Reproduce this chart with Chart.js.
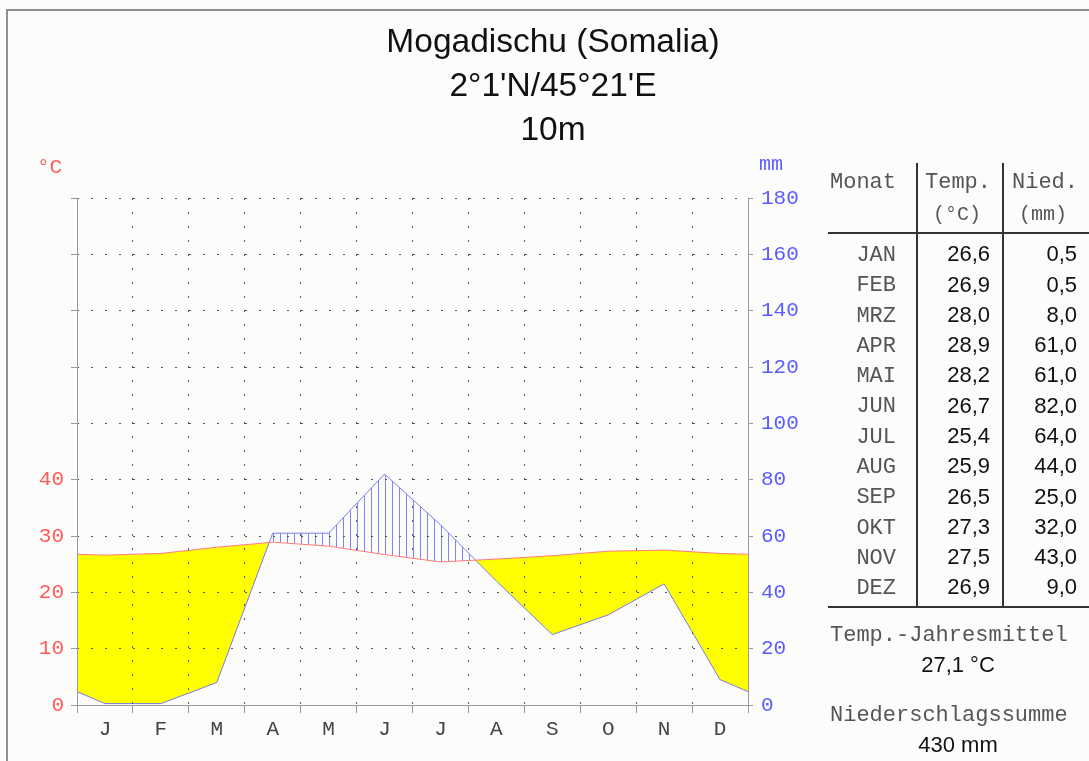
<!DOCTYPE html>
<html><head><meta charset="utf-8">
<script src="https://cdn.jsdelivr.net/npm/chart.js@4/dist/chart.umd.min.js"></script>
<style>
html,body{margin:0;padding:0;background:#fff;}
#wrap{position:relative;width:1089px;height:761px;overflow:hidden;background:#fcfdfb;}
#frame{position:absolute;left:6px;top:9px;width:1200px;height:800px;border-left:2px solid #8f8f8f;border-top:2px solid #8f8f8f;}
canvas{position:absolute;left:0;top:0;}
.t{position:absolute;white-space:nowrap;}
.ln{position:absolute;background:#333;}
</style></head><body>
<div id="wrap"><div id="frame"></div><canvas id="c" width="1089" height="761"></canvas></div>
<script>
const months = ['J','F','M','A','M','J','J','A','S','O','N','D'];
const monthNames = ['JAN','FEB','MRZ','APR','MAI','JUN','JUL','AUG','SEP','OKT','NOV','DEZ'];
const temperature = [26.6,26.9,28.0,28.9,28.2,26.7,25.4,25.9,26.5,27.3,27.5,26.9];
const precipitation = [0.5,0.5,8.0,61.0,61.0,82.0,64.0,44.0,25.0,32.0,43.0,9.0];
const tempTickLabels = [0,10,20,30,40];
const precipTickLabels = [0,20,40,60,80,100,120,140,160,180];
const titleLines = ['Mogadischu (Somalia)', "2°1'N/45°21'E", '10m'];

const wrap = document.getElementById('wrap');
const SANS = '"Liberation Sans", Arial, sans-serif';
const MONO = '"Liberation Mono", "Courier New", monospace';
function addText(str, x, base, size, family, color, align) {
  const d = document.createElement('div');
  d.className = 't';
  d.textContent = str;
  const k = family === MONO ? 0.7665 : 0.8465;
  d.style.fontFamily = family;
  d.style.fontSize = size + 'px';
  d.style.lineHeight = size + 'px';
  d.style.color = color;
  d.style.top = (base - k * size) + 'px';
  if (align === 'right') { d.style.right = (1089 - x) + 'px'; d.style.textAlign = 'right'; }
  else if (align === 'center') { d.style.left = (x - 300) + 'px'; d.style.width = '600px'; d.style.textAlign = 'center'; }
  else d.style.left = x + 'px';
  wrap.appendChild(d);
}
function addLine(x, y, w, h) {
  const d = document.createElement('div');
  d.className = 'ln';
  d.style.left = x + 'px'; d.style.top = y + 'px'; d.style.width = w + 'px'; d.style.height = h + 'px';
  wrap.appendChild(d);
}
const fmt = v => v.toFixed(1).replace('.', ',');

// title
titleLines.forEach((s, i) => addText(s, 553, 52 + i * 44, 33.5, SANS, '#111', 'center'));
// units
addText('°C', 37, 173, 21, MONO, '#ff5a5a', 'left');
addText('mm', 759, 170, 20, MONO, '#5a5aff', 'left');

// table
addText('Monat', 830, 189, 22, MONO, '#555', 'left');
addText('Temp.', 925, 189, 22, MONO, '#555', 'left');
addText('(°C)', 957, 220, 20, MONO, '#555', 'center');
addText('Nied.', 1012, 189, 22, MONO, '#555', 'left');
addText('(mm)', 1043, 220, 20, MONO, '#555', 'center');
addLine(828, 232, 270, 2);
addLine(916, 163, 2, 445);
addLine(1002, 163, 2, 445);
addLine(828, 606, 270, 2);
monthNames.forEach((m, i) => {
  const b = 262 + i * 30.27;
  addText(m, 896, b, 22, MONO, '#555', 'right');
  addText(fmt(temperature[i]), 990, b, 22, SANS, '#111', 'right');
  addText(fmt(precipitation[i]), 1077, b, 22, SANS, '#111', 'right');
});
const meanT = temperature.reduce((a, b) => a + b, 0) / temperature.length;
const sumP = precipitation.reduce((a, b) => a + b, 0);
addText('Temp.-Jahresmittel', 830, 642, 22, MONO, '#555', 'left');
addText(fmt(meanT) + ' °C', 958, 673, 22, SANS, '#111', 'center');
addText('Niederschlagssumme', 830, 722, 22, MONO, '#555', 'left');
addText(Math.round(sumP) + ' mm', 958, 753, 22, SANS, '#111', 'center');

// series points (month centres, wrapped to the diagram edges)
function seriesPoints(vals) {
  const edge = (vals[0] + vals[vals.length - 1]) / 2;
  const pts = [{x: 0, y: edge}];
  vals.forEach((v, i) => pts.push({x: i + 0.5, y: v}));
  pts.push({x: vals.length, y: edge});
  return pts;
}

// hatch pattern for humid period
const pc = document.createElement('canvas');
pc.width = 7; pc.height = 7;
const pctx = pc.getContext('2d');
pctx.fillStyle = '#8282ff';
pctx.fillRect(0, 0, 1, 7);
const hatch = document.getElementById('c').getContext('2d').createPattern(pc, 'repeat');

const GRID = '#555555';
const AXIS = '#9a9a9a';
new Chart(document.getElementById('c'), {
  type: 'line',
  data: {
    datasets: [
      {
        label: 'Temperatur',
        data: seriesPoints(temperature),
        yAxisID: 'yt',
        borderColor: '#ff7a7a',
        borderWidth: 1,
        pointRadius: 0,
        fill: false,
        tension: 0
      },
      {
        label: 'Niederschlag',
        data: seriesPoints(precipitation),
        yAxisID: 'y',
        borderColor: '#7a7ae6',
        borderWidth: 1,
        pointRadius: 0,
        tension: 0,
        fill: {target: 0, above: hatch, below: '#ffff00'}
      }
    ]
  },
  options: {
    responsive: false,
    animation: false,
    devicePixelRatio: 1,
    layout: {padding: {top: 198, left: 0, right: 0, bottom: 0}},
    plugins: {legend: {display: false}, tooltip: {enabled: false}, title: {display: false}},
    scales: {
      x: {
        type: 'linear',
        position: 'bottom',
        min: 0, max: 12,
        afterBuildTicks: s => { s.ticks = months.map((m, i) => ({value: i})).concat([{value: 12}]); },
        afterFit: s => { s.height = 56; },
        ticks: {
          autoSkip: false,
          maxRotation: 0,
          labelOffset: 28,
          padding: 4,
          color: '#444',
          font: {family: MONO, size: 21},
          callback: (v) => months[v] !== undefined ? months[v] : ''
        },
        grid: {
          z: 1,
          color: c => (c.tick && (c.tick.value === 0 || c.tick.value === 12)) ? 'rgba(0,0,0,0)' : GRID,
          lineWidth: 1,
          tickLength: 8,
          tickColor: AXIS,
          tickBorderDash: []
        },
        border: {color: AXIS, width: 1, dash: [2, 12], z: 1}
      },
      y: {
        type: 'linear',
        position: 'right',
        min: 0, max: 180,
        afterBuildTicks: s => { s.ticks = precipTickLabels.map(v => ({value: v})); },
        afterFit: s => { s.width = 341; },
        ticks: {
          padding: 8,
          color: '#5a5aff',
          font: {family: MONO, size: 21},
          callback: v => String(v)
        },
        grid: {
          z: 1,
          color: c => (c.tick && c.tick.value === 0) ? 'rgba(0,0,0,0)' : GRID,
          lineWidth: 1,
          tickLength: 5,
          tickColor: AXIS,
          tickBorderDash: []
        },
        border: {color: AXIS, width: 1, dash: [2, 12], z: 1}
      },
      yt: {
        type: 'linear',
        position: 'left',
        min: 0, max: 90,
        afterBuildTicks: s => { const t = []; for (let v = 0; v <= 90; v += 10) t.push({value: v}); s.ticks = t; },
        afterFit: s => { s.width = 77; },
        ticks: {
          padding: 7,
          color: '#ff5a5a',
          font: {family: MONO, size: 21},
          callback: v => tempTickLabels.includes(v) ? String(v) : ''
        },
        grid: {
          drawOnChartArea: false,
          tickLength: 6,
          color: AXIS,
          tickColor: AXIS
        },
        border: {color: AXIS, width: 1, z: 1}
      }
    }
  }
});
</script>
</body></html>
